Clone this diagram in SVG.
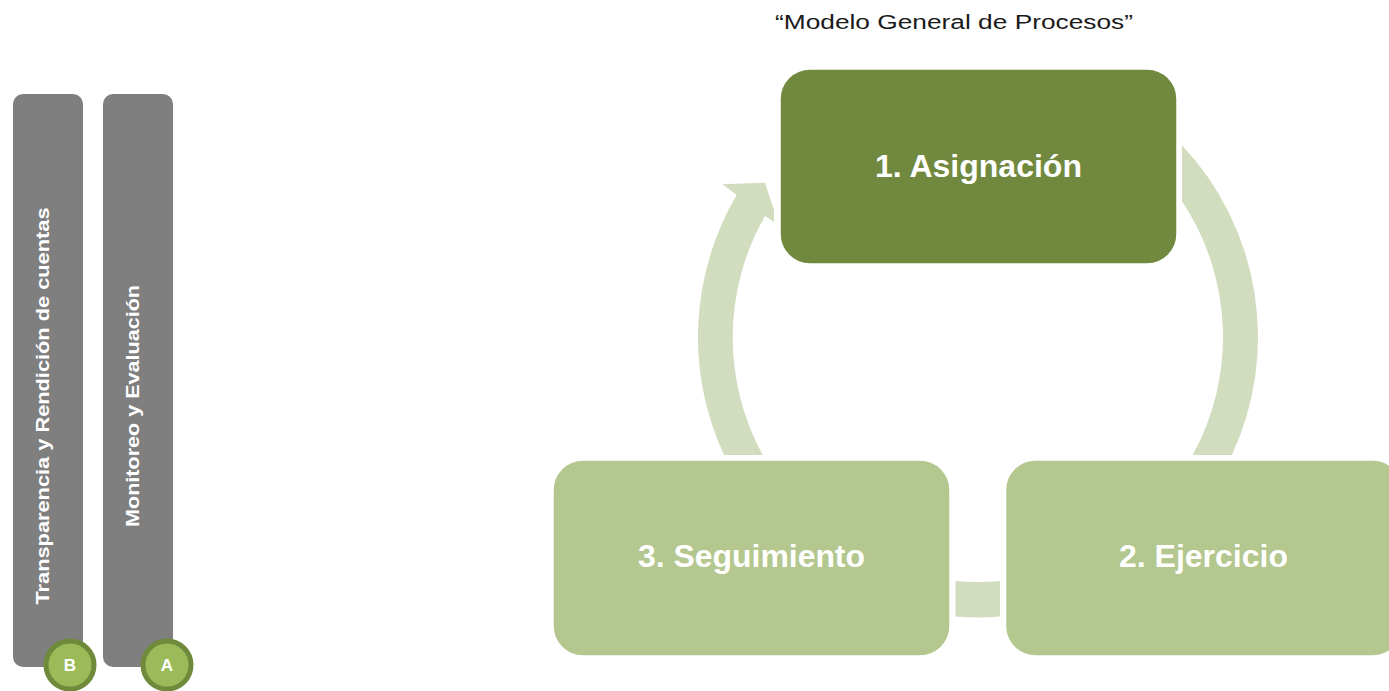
<svg xmlns="http://www.w3.org/2000/svg" width="1389" height="691" viewBox="0 0 1389 691">
<style>
.bar{fill:#7F7F7F}
.badge{fill:#9BBB59;stroke:#6F8A3A;stroke-width:5}
.badgeText{font-family:"Liberation Sans",Arial,sans-serif;font-weight:bold;font-size:17px;fill:#FFFFFF;text-anchor:middle}
.barText{font-family:"Liberation Sans",Arial,sans-serif;font-weight:bold;font-size:19px;fill:#FFFFFF;text-anchor:middle}
.band{fill:#D1DDBE}
.boxDark{fill:#71893F;stroke:#FFFFFF;stroke-width:1.5}
.boxLight{fill:#B3C78F;stroke:#FFFFFF;stroke-width:1.5}
.boxText{font-family:"Liberation Sans",Arial,sans-serif;font-weight:bold;font-size:31px;fill:#FFFFFF;text-anchor:middle}
.title{font-family:"Liberation Sans",Arial,sans-serif;font-size:20px;fill:#1A1A1A;text-anchor:middle}
</style>
<rect width="1389" height="691" fill="#FFFFFF"/>
<text class="title" x="954" y="29" textLength="358" lengthAdjust="spacingAndGlyphs">“Modelo General de Procesos”</text>
<g id="barB">
<rect class="bar" x="13" y="94" width="70" height="573" rx="10"/>
<text class="barText" transform="translate(49,406) rotate(-90)" textLength="397" lengthAdjust="spacingAndGlyphs">Transparencia y Rendición de cuentas</text>
</g>
<g id="barA">
<rect class="bar" x="103" y="94" width="70" height="573" rx="10"/>
<text class="barText" transform="translate(139,406) rotate(-90)" textLength="242" lengthAdjust="spacingAndGlyphs">Monitoreo y Evaluación</text>
</g>
<g id="badgeB">
<circle class="badge" cx="70" cy="665" r="24"/>
<text class="badgeText" x="70" y="671">B</text>
</g>
<g id="badgeA">
<circle class="badge" cx="167" cy="665" r="24"/>
<text class="badgeText" x="167" y="671">A</text>
</g>
<g id="connectors">
<path class="band" d="M 724 455 A 280 280 0 0 1 736.7 195 L 722.3 184.3 L 765 182.7 L 774 210 L 774 221.7 L 765 216 A 245 245 0 0 0 762.7 455 Z"/>
<path class="band" d="M 1182 145.2 A 280 280 0 0 1 1231.9 455 L 1192.7 455 A 245 245 0 0 0 1182 201.3 Z"/>
<path class="band" d="M 955.5 581 A 245 245 0 0 0 1000 581 L 1000 616.5 A 280 280 0 0 1 955.5 616.5 Z"/>
</g>
<g id="node1">
<rect class="boxDark" x="780" y="69" width="397" height="195" rx="30"/>
<text class="boxText" x="978.5" y="177" textLength="207" lengthAdjust="spacingAndGlyphs">1. Asignación</text>
</g>
<g id="node2">
<rect class="boxLight" x="1005.5" y="460" width="397" height="196" rx="30"/>
<text class="boxText" x="1203.5" y="567" textLength="169" lengthAdjust="spacingAndGlyphs">2. Ejercicio</text>
</g>
<g id="node3">
<rect class="boxLight" x="553" y="460" width="397" height="196" rx="30"/>
<text class="boxText" x="751.5" y="567" textLength="227" lengthAdjust="spacingAndGlyphs">3. Seguimiento</text>
</g>
</svg>
